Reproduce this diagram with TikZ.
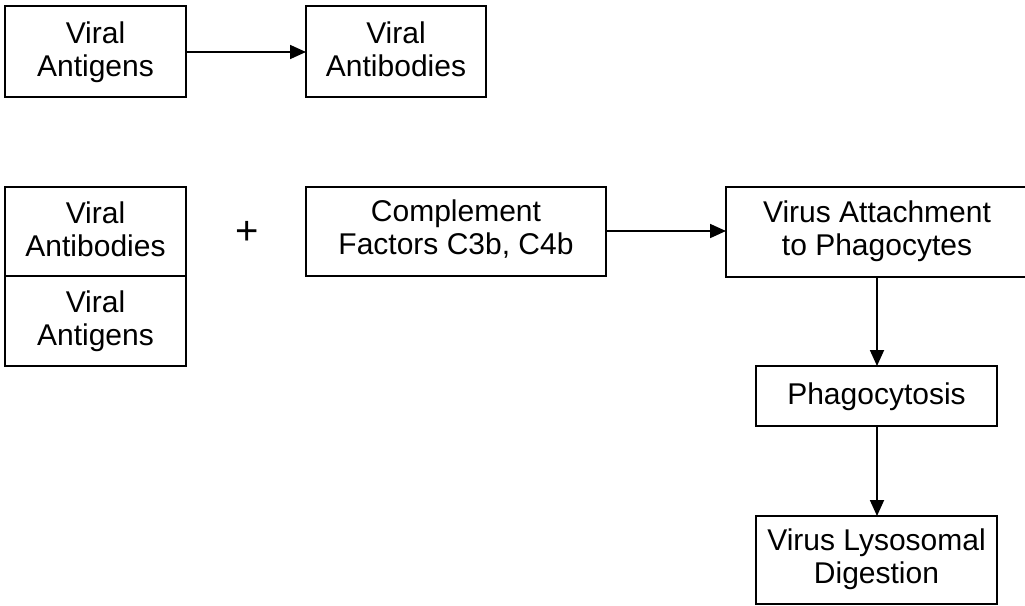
\documentclass[tikz,border=0pt]{standalone}
\usepackage{fontspec}
\setmainfont{Liberation Sans}
\usetikzlibrary{arrows.meta}
\newcommand{\ls}{\strut}
\begin{document}
\begin{tikzpicture}[x=1pt,y=-1pt,
  box/.style={draw=black,line width=1.8pt},
  lbl/.style={align=center,font=\fontsize{30}{33}\selectfont,inner sep=0pt},
  conn/.style={line width=1.8pt,-{Triangle[length=16pt,width=14pt]}}]
\useasboundingbox (0,0) rectangle (1025,605);
\draw[box] (5,6) rectangle (186,97);
\node[lbl] (a) at (95.5,53.6) {Viral\ls\\Antigens\ls};
\draw[box] (306,6) rectangle (486,97);
\node[lbl] (b) at (396,53.4) {Viral\ls\\Antibodies\ls};
\coordinate (aR) at (186,52);
\coordinate (bL) at (306,52);
\draw[conn] (aR) -- (bL);
\draw[box] (5,187) rectangle (186,276);
\node[lbl] (c) at (95.5,232.9) {Viral\ls\\Antibodies\ls};
\draw[box] (5,276) rectangle (186,366);
\node[lbl] (d) at (95.5,321.9) {Viral\ls\\Antigens\ls};
\node[lbl,font=\fontsize{40}{40}\selectfont] (plus) at (247,233) {+};
\draw[box] (306,187) rectangle (606,276);
\node[lbl] (e) at (456,231.6) {Complement\ls\\Factors C3b, C4b\ls};
\draw[box] (726,187) rectangle (1028,277);
\node[lbl] (f) at (877,231.9) {Virus Attachment\ls\\to Phagocytes\ls};
\coordinate (eR) at (606,231);
\coordinate (fL) at (726,231);
\draw[conn] (eR) -- (fL);
\draw[box] (756,366) rectangle (997,426);
\node[lbl] (g) at (876.5,397.4) {Phagocytosis\ls};
\coordinate (fB) at (877,277);
\coordinate (gT) at (877,366);
\draw[conn] (fB) -- (gT);
\draw[box] (756,516) rectangle (997,604);
\node[lbl] (h) at (876.5,560.6) {Virus Lysosomal\ls\\Digestion\ls};
\coordinate (gB) at (877,426);
\coordinate (hT) at (877,516);
\draw[conn] (gB) -- (hT);
\end{tikzpicture}
\end{document}
